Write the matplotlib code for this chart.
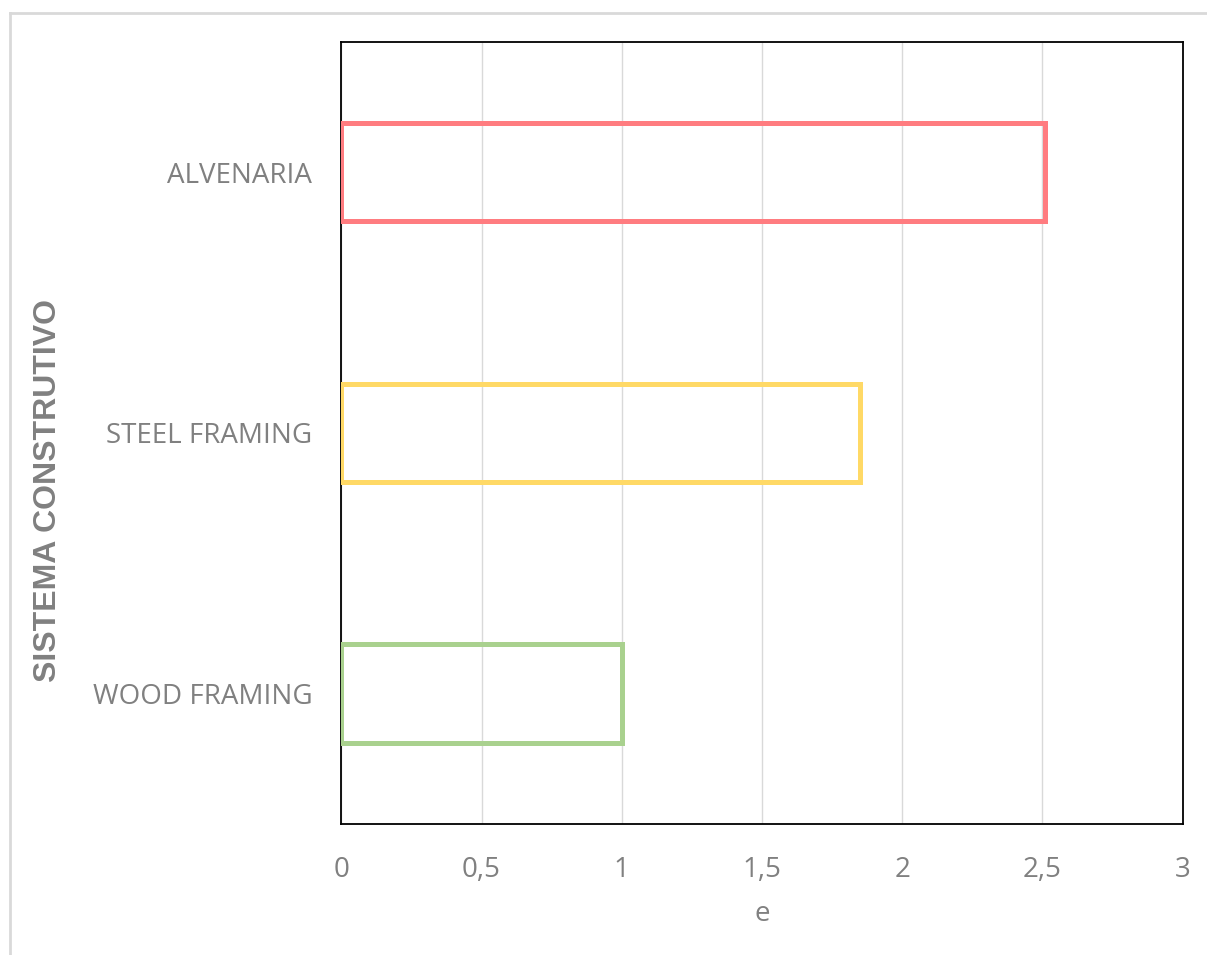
import matplotlib
matplotlib.use("Agg")
import matplotlib.pyplot as plt
from matplotlib.lines import Line2D

categories = ["WOOD FRAMING", "STEEL FRAMING", "ALVENARIA"]
values = [1.0, 1.85, 2.51]
colors = ["#A9D18E", "#FFD966", "#FF7C80"]
x_ticks = [0, 0.5, 1, 1.5, 2, 2.5, 3]
x_tick_labels = ["0", "0,5", "1", "1,5", "2", "2,5", "3"]

W, H = 1207, 955
fig = plt.figure(figsize=(W / 100, H / 100), dpi=100)
ax = fig.add_axes([341.3 / W, 1 - 823.7 / H, (1182.7 - 341.3) / W, (823.7 - 41.7) / H])

ypos = list(range(len(categories)))
ax.barh(ypos, values, height=0.377, fill=False, edgecolor=colors, linewidth=3.6, zorder=3)

ax.set_xlim(0, 3)
ax.set_ylim(-0.5, len(categories) - 0.5)
ax.set_xticks(x_ticks)
ax.set_xticklabels(x_tick_labels)
ax.set_yticks(ypos)
ax.set_yticklabels(categories)
ax.grid(axis="x", color="#d9d9d9", linewidth=1.0, zorder=0)
ax.set_axisbelow(True)
for s in ax.spines.values():
    s.set_color("black")
    s.set_linewidth(1.3)

ax.tick_params(axis="both", length=0)
ax.tick_params(axis="y", pad=21)
ax.tick_params(axis="x", pad=23)
for lbl in ax.get_xticklabels() + ax.get_yticklabels():
    lbl.set_fontfamily("Open Sans")
    lbl.set_fontsize(20)
    lbl.set_color("#808080")

ax.set_xlabel("e", fontfamily="Open Sans", fontsize=20, color="#808080", labelpad=12)
fig.text(48 / W, 1 - 491 / H, "SISTEMA CONSTRUTIVO", rotation=90, ha="center", va="center",
         fontfamily="Liberation Sans", fontsize=23, fontweight="bold", color="#808080")

# light outer frame
fig.add_artist(Line2D([10 / W, 1.0], [1 - 13.5 / H, 1 - 13.5 / H], transform=fig.transFigure,
                      color="#d9d9d9", linewidth=2.0))
fig.add_artist(Line2D([10 / W, 10 / W], [0, 1 - 13.5 / H], transform=fig.transFigure,
                      color="#d9d9d9", linewidth=2.0))

fig.savefig("out.png", dpi=100)
